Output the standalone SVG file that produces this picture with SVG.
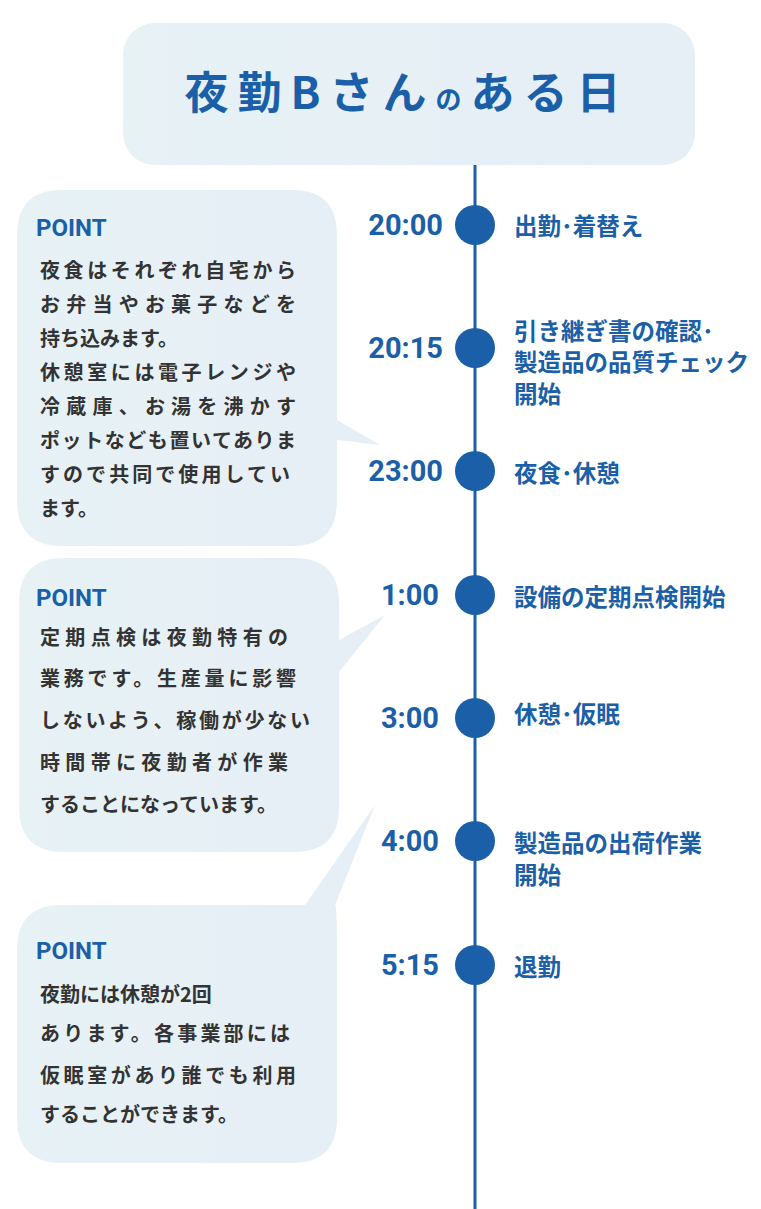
<svg xmlns="http://www.w3.org/2000/svg" width="761" height="1209" viewBox="0 0 761 1209">
<defs>
<linearGradient id="bg" x1="0" x2="1" y1="0" y2="0"><stop offset="0" stop-color="#e7f2f5"/><stop offset="1" stop-color="#e6eef6"/></linearGradient>
<style>
.t{font-family:"Noto Sans CJK JP","Noto Sans",sans-serif;font-weight:700;fill:#1a5fa8}
.tm{font-family:Roboto,"Noto Sans",sans-serif;font-size:29px;text-anchor:end}
.ev{font-size:23.5px}
.pt{font-family:Roboto,"Noto Sans",sans-serif;font-weight:700;fill:#1a5fa8;font-size:24px}
.bd{font-family:"Noto Sans CJK JP",sans-serif;font-weight:700;fill:#333;font-size:20px}
.dot{fill:#1a5fa8}
</style>
</defs>
<rect width="761" height="1209" fill="#fff"/>
<g id="connectors"><line x1="475" y1="165" x2="475" y2="1209" stroke="#1a5fa8" stroke-width="3"/></g>
<g id="title"><rect x="123" y="23" width="572" height="142" rx="32" fill="url(#bg)"/>
<text x="407" y="109" text-anchor="middle" class="t" font-size="44" letter-spacing="9">夜勤Bさん<tspan font-size="26">の</tspan>ある日</text></g>
<g id="bubble1"><path d="M62,190 H292 Q337,190 337,235 V420 L380,445 L337,440 V501 Q337,546 292,546 H62 Q17,546 17,501 V235 Q17,190 62,190 Z" fill="url(#bg)"/>
<text x="36" y="236" class="pt">POINT</text>
<g class="bd"><text x="40" y="278" textLength="256">夜食はそれぞれ自宅から</text><text x="40" y="312" textLength="256">お弁当やお菓子などを</text><text x="40" y="346">持ち込みます。</text><text x="40" y="380" textLength="256">休憩室には電子レンジや</text><text x="40" y="414" textLength="256">冷蔵庫、お湯を沸かす</text><text x="40" y="448" textLength="256">ポットなども置いてありま</text><text x="40" y="482" textLength="250">すので共同で使用してい</text><text x="40" y="516">ます。</text></g></g>
<g id="bubble2"><path d="M64,558 H294 Q339,558 339,603 V640 L385,615 L339,672 V807 Q339,852 294,852 H64 Q19,852 19,807 V603 Q19,558 64,558 Z" fill="url(#bg)"/>
<text x="36" y="606" class="pt">POINT</text>
<g class="bd"><text x="40" y="645" textLength="248">定期点検は夜勤特有の</text><text x="40" y="686" textLength="256">業務です。生産量に影響</text><text x="40" y="728" textLength="270">しないよう、稼働が少ない</text><text x="40" y="770" textLength="248">時間帯に夜勤者が作業</text><text x="40" y="812">することになっています。</text></g></g>
<g id="bubble3"><path d="M62,905 H305 L375,805 L335,905 Q337,905 337,950 V1118 Q337,1163 292,1163 H62 Q17,1163 17,1118 V950 Q17,905 62,905 Z" fill="url(#bg)"/>
<text x="36" y="959" class="pt">POINT</text>
<g class="bd"><text x="40" y="1002">夜勤には休憩が2回</text><text x="40" y="1041" textLength="250">あります。各事業部には</text><text x="40" y="1083" textLength="256">仮眠室があり誰でも利用</text><text x="40" y="1122">することができます。</text></g></g>
<g id="e1"><circle cx="475" cy="225" r="20" class="dot"/><text x="443" y="235" class="t tm">20:00</text><text x="514" y="235" class="t ev">出勤･着替え</text></g>
<g id="e2"><circle cx="475" cy="348" r="20" class="dot"/><text x="443" y="358" class="t tm">20:15</text><text class="t ev"><tspan x="514" y="340">引き継ぎ書の確認･</tspan><tspan x="514" y="371">製造品の品質チェック</tspan><tspan x="514" y="403">開始</tspan></text></g>
<g id="e3"><circle cx="475" cy="471" r="20" class="dot"/><text x="443" y="481" class="t tm">23:00</text><text x="514" y="482" class="t ev">夜食･休憩</text></g>
<g id="e4"><circle cx="475" cy="595" r="20" class="dot"/><text x="439" y="605" class="t tm">1:00</text><text x="514" y="606" class="t ev">設備の定期点検開始</text></g>
<g id="e5"><circle cx="475" cy="718" r="20" class="dot"/><text x="439" y="728" class="t tm">3:00</text><text x="514" y="723" class="t ev">休憩･仮眠</text></g>
<g id="e6"><circle cx="475" cy="841" r="20" class="dot"/><text x="439" y="851" class="t tm">4:00</text><text class="t ev"><tspan x="514" y="852">製造品の出荷作業</tspan><tspan x="514" y="884">開始</tspan></text></g>
<g id="e7"><circle cx="475" cy="965" r="20" class="dot"/><text x="439" y="975" class="t tm">5:15</text><text x="514" y="976" class="t ev">退勤</text></g>
</svg>
